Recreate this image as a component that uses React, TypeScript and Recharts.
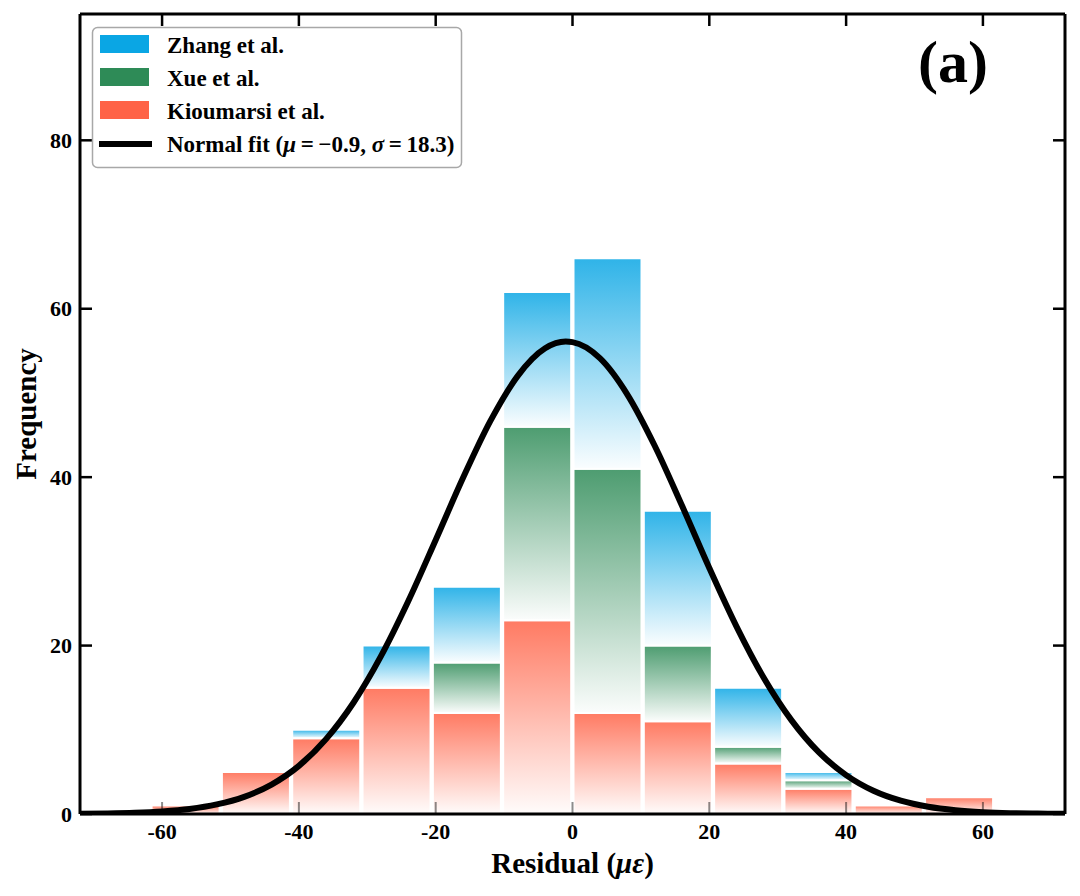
import React from 'react';
import { ComposedChart, Bar, Line, XAxis, YAxis } from 'recharts';

// ---- data ----
const binCenters = [-56.54, -46.26, -35.98, -25.7, -15.42, -5.14, 5.14, 15.42, 25.7, 35.98, 46.26, 56.54];
const kioumarsiCounts = [1, 5, 9, 15, 12, 23, 12, 11, 6, 3, 1, 2];
const xueCounts = [0, 0, 0, 0, 6, 23, 29, 9, 2, 1, 0, 0];
const zhangCounts = [0, 0, 1, 5, 9, 16, 25, 16, 7, 1, 0, 0];

const fitX = [-72, -68, -64, -60, -56, -52, -48, -44, -40, -36, -32, -28, -24, -20, -16, -12, -8, -4, -1, 0, 4, 8, 12, 16, 20, 24, 28, 32, 36, 40, 44, 48, 52, 56, 60, 64, 68, 72];
const fitY = [0.03, 0.07, 0.15, 0.31, 0.6, 1.14, 2.04, 3.5, 5.72, 8.92, 13.24, 18.74, 25.29, 32.54, 39.92, 46.68, 52.03, 55.3, 56.1, 56.03, 54.13, 49.84, 43.76, 36.63, 29.22, 22.23, 16.12, 11.15, 7.34, 4.62, 2.76, 1.58, 0.86, 0.45, 0.22, 0.1, 0.05, 0.02];

const xTicks = [-60, -40, -20, 0, 20, 40, 60];
const yTicks = [0, 20, 40, 60, 80];
const xDomain = [-72, 72];
const yDomain = [0, 95];

const seriesKeys = ['zhang', 'xue', 'kioumarsi'];
const seriesNames = ['Zhang et al.', 'Xue et al.', 'Kioumarsi et al.'];
const seriesColors = ['#0aa6e4', '#2e8b57', '#ff6347'];

const histData = binCenters.map((c, i) => ({
  x: c,
  kioumarsi: kioumarsiCounts[i],
  xue: xueCounts[i],
  zhang: zhangCounts[i],
}));
const fitData = fitX.map((x, i) => ({ x, fit: fitY[i] }));

// ---- layout ----
const W = 1064;
const H = 880;
const MARGIN = { top: 5, right: 6, bottom: 4, left: 0 };
const YAXIS_W = 72;
const XAXIS_H = 70;
const PLOT_LEFT = MARGIN.left + YAXIS_W;
const PLOT_RIGHT = W - MARGIN.right - 1;
const PLOT_TOP = MARGIN.top + 1;
const PLOT_BOTTOM = H - MARGIN.bottom - XAXIS_H;

const FONT = "'Liberation Serif', 'Times New Roman', Times, serif";
const TICK_LEN = 12;
const TICK_W = 2.5;
const SPINE = { stroke: '#000', strokeWidth: 3 };

const BottomLabel = (props: any) => {
  const { x, y, payload } = props;
  return (
    <text x={x} y={y + 25} textAnchor="middle" fontFamily={FONT} fontWeight="bold" fontSize={22} fill="#000">
      {String(payload.value)}
    </text>
  );
};

const LeftLabel = (props: any) => {
  const { x, y, payload } = props;
  return (
    <text x={x - 8} y={y + 7.5} textAnchor="end" fontFamily={FONT} fontWeight="bold" fontSize={22} fill="#000">
      {String(payload.value)}
    </text>
  );
};

// the top axis draws the inward tick marks of both the top and bottom spines
const TopTick = (props: any) => {
  const { x, y } = props;
  return (
    <g>
      <line x1={x} x2={x} y1={y} y2={y + TICK_LEN} stroke="#000" strokeWidth={TICK_W} />
      <line x1={x} x2={x} y1={PLOT_BOTTOM} y2={PLOT_BOTTOM - TICK_LEN} stroke="#000" strokeOpacity={0.45} strokeWidth={2} />
    </g>
  );
};

// the right axis draws the inward tick marks of both the right and left spines
const RightTick = (props: any) => {
  const { x, y } = props;
  return (
    <g>
      <line x1={x} x2={x - TICK_LEN} y1={y} y2={y} stroke="#000" strokeWidth={TICK_W} />
      <line x1={PLOT_LEFT} x2={PLOT_LEFT + TICK_LEN} y1={y} y2={y} stroke="#000" strokeWidth={TICK_W} />
    </g>
  );
};

const Overlay = () => {
  const lx = 84.5;
  const ly = 19.5;
  const rows = [0, 1, 2];
  return (
    <svg
      width={W}
      height={H}
      style={{ position: 'absolute', left: 0, top: 0, pointerEvents: 'none' }}
      fontFamily={FONT}
      fontWeight="bold"
    >
      <text x={(PLOT_LEFT + PLOT_RIGHT) / 2} y={865} textAnchor="middle" fontSize={29} fill="#000">
        Residual (<tspan fontStyle="italic">με</tspan>)
      </text>
      <text
        x={28}
        y={(PLOT_TOP + PLOT_BOTTOM) / 2}
        textAnchor="middle"
        fontSize={29}
        fill="#000"
        transform={`rotate(-90 28 ${(PLOT_TOP + PLOT_BOTTOM) / 2})`}
      >
        Frequency
      </text>
      <text x={945} y={74} textAnchor="middle" fontSize={60} fill="#000">
        (a)
      </text>
      <rect x={lx} y={ly} width={369} height={140} rx={5} ry={5} fill="#fff" fillOpacity={0.9} stroke="#a8a8a8" strokeWidth={1.5} />
      {rows.map((i) => (
        <g key={seriesKeys[i]}>
          <rect x={92} y={27 + i * 33} width={49} height={18} fill={seriesColors[i]} />
          <text x={159} y={44.7 + i * 33} fontSize={23} fill="#000">
            {seriesNames[i]}
          </text>
        </g>
      ))}
      <line x1={91} x2={144} y1={136} y2={136} stroke="#000" strokeWidth={6} />
      <text x={159} y={143.7} fontSize={23} fill="#000">
        Normal fit (<tspan fontStyle="italic">μ</tspan>{'\u2009=\u2009−0.9, '}
        <tspan fontStyle="italic">σ</tspan>{'\u2009=\u200918.3)'}
      </text>
    </svg>
  );
};

export default function App() {
  return (
    <div style={{ position: 'relative', width: W, height: H, background: '#fff' }}>
      <ComposedChart width={W} height={H} data={histData} margin={MARGIN} barGap={0} barCategoryGap={0}>
        <defs>
          {seriesKeys.map((k, i) => (
            <linearGradient key={k} id={`grad-${k}`} x1="0" y1="0" x2="0" y2="1">
              <stop offset="0%" stopColor={seriesColors[i]} stopOpacity={0.85} />
              <stop offset="100%" stopColor={seriesColors[i]} stopOpacity={0.02} />
            </linearGradient>
          ))}
        </defs>
        <XAxis
          dataKey="x"
          type="number"
          domain={xDomain}
          allowDataOverflow
          ticks={xTicks}
          interval={0}
          height={XAXIS_H}
          tickSize={0}
          tickMargin={0}
          tickLine={false}
          tick={BottomLabel}
          axisLine={SPINE}
        />
        <XAxis xAxisId="fit" dataKey="x" type="number" domain={xDomain} allowDataOverflow hide />
        <YAxis
          type="number"
          domain={yDomain}
          allowDataOverflow
          ticks={yTicks}
          interval={0}
          width={YAXIS_W}
          tickSize={0}
          tickMargin={0}
          tickLine={false}
          tick={LeftLabel}
          axisLine={SPINE}
        />
        <Bar dataKey="kioumarsi" stackId="s" barSize={68} fill="url(#grad-kioumarsi)" stroke="#fff" strokeWidth={2} isAnimationActive={false} />
        <Bar dataKey="xue" stackId="s" barSize={68} fill="url(#grad-xue)" stroke="#fff" strokeWidth={2} isAnimationActive={false} />
        <Bar dataKey="zhang" stackId="s" barSize={68} fill="url(#grad-zhang)" stroke="#fff" strokeWidth={2} isAnimationActive={false} />
        <Line
          data={fitData}
          xAxisId="fit"
          dataKey="fit"
          type="monotone"
          stroke="#000"
          strokeWidth={6}
          dot={false}
          activeDot={false}
          isAnimationActive={false}
        />
        <XAxis
          xAxisId="top"
          orientation="top"
          dataKey="x"
          type="number"
          domain={xDomain}
          allowDataOverflow
          ticks={xTicks}
          interval={0}
          height={1}
          tickSize={0}
          tickMargin={0}
          tickLine={false}
          tick={TopTick}
          axisLine={SPINE}
        />
        <YAxis
          yAxisId="right"
          orientation="right"
          type="number"
          domain={yDomain}
          allowDataOverflow
          ticks={yTicks}
          interval={0}
          width={1}
          tickSize={0}
          tickMargin={0}
          tickLine={false}
          tick={RightTick}
          axisLine={SPINE}
        />
      </ComposedChart>
      <Overlay />
    </div>
  );
}
